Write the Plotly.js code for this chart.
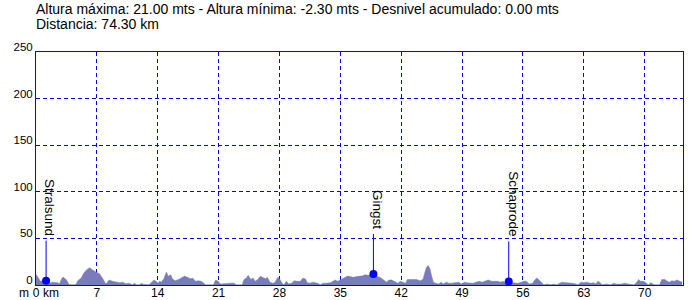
<!DOCTYPE html>
<html>
<head>
<meta charset="utf-8">
<script src="https://cdn.plot.ly/plotly-3.0.1.min.js"></script>
<style>
html,body{margin:0;padding:0;background:#fff;}
#chart{width:700px;height:300px;}
</style>
</head>
<body>
<div id="chart"></div>
<script>
// Elevation profile (km, metres)
const distanceKm = [0.0,0.3,0.5,0.8,1.0,1.2,1.45,1.6,1.8,2.1,2.3,2.5,2.7,2.9,3.1,3.3,3.5,3.65,3.8,4.2,4.6,4.8,5.0,5.2,5.5,5.9,6.2,6.5,6.9,7.3,7.6,7.75,7.9,8.05,8.2,8.4,8.8,9.2,9.6,10.0,10.3,10.7,11.1,11.3,11.6,11.9,12.1,12.3,
12.6,13.0,13.3,13.55,13.8,14.05,14.2,14.4,14.7,15.0,15.2,15.5,15.7,16.0,16.4,16.8,17.1,17.4,17.8,18.0,18.35,18.65,19.0,19.3,19.5,20.4,20.65,20.95,21.2,21.6,22.0,22.4,22.8,23.0,23.7,23.9,24.2,24.4,24.7,24.95,
25.2,25.5,25.8,26.1,26.4,26.6,26.9,27.25,27.5,27.8,28.0,28.3,28.5,28.8,29.05,29.4,29.7,30.0,30.4,30.7,31.0,31.2,31.5,31.85,32.1,32.4,32.7,33.0,33.3,33.5,33.85,34.15,34.4,34.7,35.0,35.3,35.6,35.85,36.1,36.5,36.9,37.3,
37.6,37.8,38.2,38.6,38.9,39.2,39.55,39.9,40.3,40.6,40.9,41.2,41.6,41.9,42.2,42.5,42.7,43.2,43.7,44.2,44.5,44.7,44.9,45.1,45.3,45.5,45.7,45.96,46.3,46.6,46.8,47.2,47.5,47.8,48.2,48.6,48.95,49.26,49.5,49.7,
49.9,50.25,50.6,50.95,51.3,51.7,52.0,52.4,52.75,53.1,53.4,53.7,54.0,54.36,54.7,55.05,55.4,55.8,56.1,56.4,56.7,57.1,57.35,57.6,57.85,58.1,58.4,58.8,59.2,59.5,59.9,60.2,60.5,60.9,61.3,61.7,62.1,
62.3,62.7,63.0,63.3,63.5,63.8,64.1,64.4,64.6,64.8,65.1,65.6,66.1,66.45,66.7,67.3,67.75,68.1,68.75,69.0,69.3,69.5,69.8,70.05,70.4,70.7,71.1,71.7,71.97,72.3,72.6,72.85,73.1,73.4,73.7,74.0,74.3];
const elevationM = [11.5,7,4,4.6,4.6,5,4,1.5,3,3,3.2,2.5,1,6,8.5,7,5.5,3,0.5,0.3,0.5,4.6,6,7.5,13,17,18.5,16,14,12,8,5,2,0.7,3,5.4,4,3,2.5,3,1.4,1.8,0.3,1.8,0.3,0.3,1.8,0.8,
0.2,0.2,3,5.4,4,1.8,4,3,6.8,14,9.3,11,6.4,4.6,6,8.2,9.6,8.2,6.8,7.5,4,4.6,4,2,0.2,0.2,5.4,4,1,1.4,2,2,1.8,0.3,0.2,5.7,7.5,10.4,6,7.5,
4,6,9.3,8.2,6.8,8.2,3,1.8,3,8.2,6.8,1.8,0.3,4,1,2,4.6,4,4,7.5,6.4,2.5,2,3,2.5,1.8,0.3,2,1.8,1.8,2.5,4,5.4,4,5.7,6.8,8.2,9.6,9,8.2,9,9.3,
9.8,11,10.4,11.8,11.5,9,8.2,6,3,5.4,5.4,4,1.8,4,3,1.8,6,6,6,4.6,6,13,19,21,17.5,9.3,3,1.8,1,3,1,3,1.8,2,2.5,3,1,3,2.5,2.5,
2.5,1.8,3,4,3,4.6,5.4,4,4,4,3,4,2.5,3,2.5,1.8,1.8,3,4,4,1,1.8,5.4,7.5,5.4,2.5,0.3,1,0.3,1,0.3,1.8,3,2.5,2.5,1.8,1,
0.3,3,2.5,3,2.5,1.8,2.5,1,4,3,0.3,1,0.3,2,1,1,2,1,0.3,1.8,6,4,4,3,0.3,2.5,0.3,0.3,6,6,4,3,4.6,4,5.4,4.6,3];

// Waypoints
const placeNames = ["Stralsund", "Gingst", "Schaprode"];
const placeKm = [1.16, 38.8, 54.36];
const placeElev = [4.6, 11.8, 3.8];

// Axis ticks
const xTickVals = [0, 7, 14, 21, 28, 35, 42, 49, 56, 63, 70];
const xTickText = ["0", "7", "14", "21", "28", "35", "42", "49", "56", "63", "70"];
const yTickVals = [0, 50, 100, 150, 200, 250];

// Header texts
const headerLine1 = "Altura máxima: 21.00 mts - Altura mínima: -2.30 mts - Desnivel acumulado: 0.00 mts";
const headerLine2 = "Distancia: 74.30 km";

const BLUE = "#0000ff";
const FILL = "rgb(122,122,188)";
const FONT = "Liberation Sans, Arial, sans-serif";
const STEM = 43; // stem height in metres

const traces = [{
  x: distanceKm, y: elevationM, type: "scatter", mode: "lines",
  fill: "tozeroy", fillcolor: FILL, line: {color: FILL, width: 0.5},
  hoverinfo: "skip", showlegend: false
}];

placeKm.forEach((k, i) => {
  traces.push({
    x: [k, k], y: [placeElev[i], placeElev[i] + STEM], type: "scatter", mode: "lines",
    line: {color: BLUE, width: 1}, showlegend: false, hoverinfo: "skip"
  });
});
traces.push({
  x: placeKm, y: placeElev, type: "scatter", mode: "markers",
  marker: {color: BLUE, size: 8}, showlegend: false, hoverinfo: "skip"
});

const annotations = [
  {text: headerLine1, xref: "paper", yref: "paper", x: 0, y: 1, xanchor: "left", yanchor: "middle",
   xshift: -2, yshift: 43, showarrow: false, font: {family: FONT, size: 14, color: "#000"}},
  {text: headerLine2, xref: "paper", yref: "paper", x: 0, y: 1, xanchor: "left", yanchor: "middle",
   xshift: -2, yshift: 28, showarrow: false, font: {family: FONT, size: 14, color: "#000"}},
  {text: "m", xref: "x", yref: "paper", x: 0, y: 0, xanchor: "center", yanchor: "middle",
   xshift: -12, yshift: -8, borderpad: 0, showarrow: false, font: {family: FONT, size: 12, color: "#000"}},
  {text: "km", xref: "x", yref: "paper", x: 0, y: 0, xanchor: "left", yanchor: "middle",
   xshift: 6, yshift: -8, borderpad: 0, showarrow: false, font: {family: FONT, size: 12, color: "#000"}}
];
placeNames.forEach((n, i) => {
  annotations.push({
    text: n, xref: "x", yref: "y", x: placeKm[i], y: placeElev[i] + STEM,
    xanchor: "center", yanchor: "bottom", xshift: 4, yshift: 3, textangle: 90,
    showarrow: false, font: {family: FONT, size: 13.5, color: "#000"}
  });
});

const layout = {
  width: 700, height: 300,
  margin: {l: 36, r: 17, t: 52, b: 15, pad: 0},
  paper_bgcolor: "#fff", plot_bgcolor: "#fff",
  font: {family: FONT, size: 12, color: "#000"},
  xaxis: {
    range: [0, 74.4], tickmode: "array", tickvals: xTickVals, ticktext: xTickText,
    showgrid: true, gridcolor: BLUE, gridwidth: 1, griddash: "4px,3px",
    showline: true, linecolor: BLUE, linewidth: 1, mirror: true,
    zeroline: false, ticks: "", ticklabelstandoff: -3,
    tickfont: {family: FONT, size: 12, color: "#000"}, fixedrange: true
  },
  yaxis: {
    range: [0, 250], tickmode: "array", tickvals: yTickVals,
    showgrid: true, gridcolor: BLUE, gridwidth: 1, griddash: "4px,3px",
    showline: true, linecolor: BLUE, linewidth: 1, mirror: true,
    zeroline: false, ticks: "", ticklabelshift: -5,
    tickfont: {family: FONT, size: 11.5, color: "#000"}, fixedrange: true
  },
  annotations: annotations
};

Plotly.newPlot("chart", traces, layout, {displayModeBar: false, staticPlot: true});
</script>
</body>
</html>
